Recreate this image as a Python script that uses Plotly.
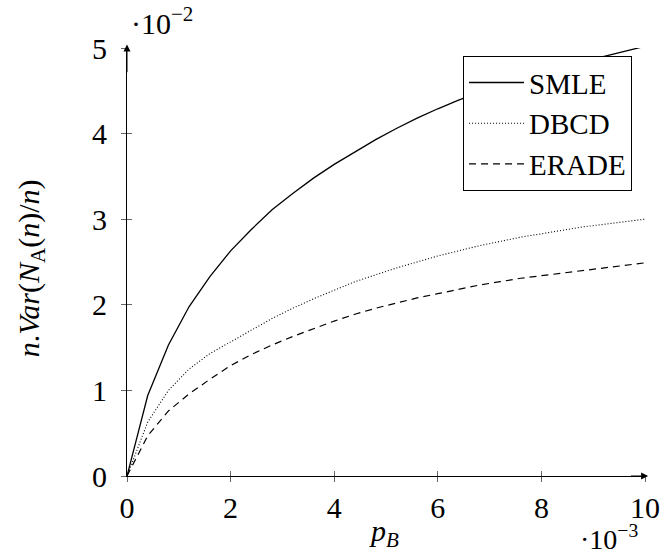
import plotly.graph_objects as go

# x values in units of 1e-3
p_b = [0.0, 0.4, 0.8, 1.2, 1.6, 2.0, 2.4, 2.8, 3.2, 3.6, 4.0, 4.4, 4.8, 5.2, 5.6,
       6.0, 6.4, 6.8, 7.2, 7.6, 8.0, 8.4, 8.8, 9.2, 9.6, 10.0]
# y values in units of 1e-2
smle = [0.0, 0.94, 1.53, 1.98, 2.33, 2.63, 2.88, 3.11, 3.30, 3.48, 3.64, 3.79, 3.93,
        4.06, 4.18, 4.29, 4.39, 4.48, 4.56, 4.64, 4.71, 4.78, 4.84, 4.90, 4.96, 5.02]
dbcd = [0.0, 0.63, 1.00, 1.25, 1.43, 1.57, 1.71, 1.84, 1.96, 2.07, 2.17, 2.27, 2.35,
        2.43, 2.50, 2.57, 2.63, 2.69, 2.74, 2.79, 2.83, 2.87, 2.91, 2.94, 2.97, 3.00]
erade = [0.0, 0.47, 0.76, 0.96, 1.13, 1.29, 1.42, 1.53, 1.63, 1.72, 1.81, 1.89, 1.96,
         2.02, 2.08, 2.13, 2.18, 2.23, 2.27, 2.31, 2.34, 2.37, 2.40, 2.43, 2.46, 2.49]

x_ticks = [0, 2, 4, 6, 8, 10]
y_ticks = [0, 1, 2, 3, 4, 5]

FONT = "Liberation Serif, DejaVu Serif, Times New Roman, serif"
FS = 30

fig = go.Figure()
fig.add_trace(go.Scatter(x=p_b, y=smle, mode="lines", name="SMLE",
                         line=dict(color="black", width=1.3)))
fig.add_trace(go.Scatter(x=p_b, y=dbcd, mode="lines", name="DBCD",
                         line=dict(color="black", width=1.1, dash="1px,2px")))
fig.add_trace(go.Scatter(x=p_b, y=erade, mode="lines", name="ERADE",
                         line=dict(color="black", width=1.2, dash="7px,5px")))
# invisible trace to anchor overlay axes (for ticks crossing the axis lines)
fig.add_trace(go.Scatter(x=[0], y=[0], xaxis="x2", yaxis="y2", mode="markers",
                         marker=dict(opacity=0), showlegend=False, hoverinfo="skip"))

fig.update_layout(
    width=661, height=554,
    margin=dict(l=127, r=16, t=48, b=78),
    paper_bgcolor="white", plot_bgcolor="white",
    font=dict(family=FONT, size=FS, color="black"),
    showlegend=True,
    legend=dict(x=0.975, y=0.981, xanchor="right", yanchor="top",
                bordercolor="black", borderwidth=1, bgcolor="white",
                font=dict(family=FONT, size=29), itemwidth=55,
                tracegroupgap=0),
    xaxis=dict(range=[0, 10], tickvals=x_ticks, ticks="outside", ticklen=5,
               tickcolor="#666", tickwidth=1, showline=True, linecolor="black",
               linewidth=1, showgrid=False, zeroline=False, automargin=False,
               tickfont=dict(family=FONT, size=FS), ticklabelstandoff=0),
    yaxis=dict(range=[0, 5], tickvals=y_ticks, ticks="outside", ticklen=5,
               tickcolor="#666", tickwidth=1, showline=True, linecolor="black",
               linewidth=1, showgrid=False, zeroline=False, automargin=False,
               tickfont=dict(family=FONT, size=FS), ticklabelstandoff=8),
    xaxis2=dict(range=[0, 10], tickvals=x_ticks, ticks="inside", ticklen=5,
                tickcolor="#666", tickwidth=1, overlaying="x", anchor="y2",
                showticklabels=False, showline=False, showgrid=False, zeroline=False),
    yaxis2=dict(range=[0, 5], tickvals=y_ticks, ticks="inside", ticklen=5,
                tickcolor="#666", tickwidth=1, overlaying="y", anchor="x2",
                showticklabels=False, showline=False, showgrid=False, zeroline=False),
)

annotations = [
    # axis arrowheads
    dict(x=0, y=5.04, xref="x", yref="y", ax=0, ay=4.7, axref="x", ayref="y",
         showarrow=True, arrowhead=2, arrowsize=1.4, arrowwidth=1, arrowcolor="black", text=""),
    dict(x=10.06, y=0, xref="x", yref="y", ax=9.7, ay=0, axref="x", ayref="y",
         showarrow=True, arrowhead=2, arrowsize=1.4, arrowwidth=1, arrowcolor="black", text=""),
    # scale factors
    dict(x=0.068, y=1.064, xref="paper", yref="paper", showarrow=False,
         text="·10<sup>−2</sup>", font=dict(family=FONT, size=FS), borderpad=0,
         xanchor="center", yanchor="middle"),
    dict(x=0.93, y=-0.143, xref="paper", yref="paper", showarrow=False,
         text="·10<sup>−3</sup>", font=dict(family=FONT, size=28), borderpad=0,
         xanchor="center", yanchor="middle"),
    # axis titles
    dict(x=0.496, y=-0.133, xref="paper", yref="paper", showarrow=False,
         text="<i>p</i><sub><i>B</i></sub>", font=dict(family=FONT, size=FS),
         xanchor="center", yanchor="middle"),
    dict(x=-0.185, y=0.486, xref="paper", yref="paper", showarrow=False,
         text="<i>n</i>.<i>Var</i>(<i>N</i><sub>A</sub>(<i>n</i>)/<i>n</i>)",
         textangle=-90, font=dict(family=FONT, size=FS),
         xanchor="center", yanchor="middle"),
]
fig.update_layout(annotations=annotations)

fig.write_html("out.html", config={"displayModeBar": False},
               post_script="document.body.style.margin='0';document.body.style.overflow='hidden';")
